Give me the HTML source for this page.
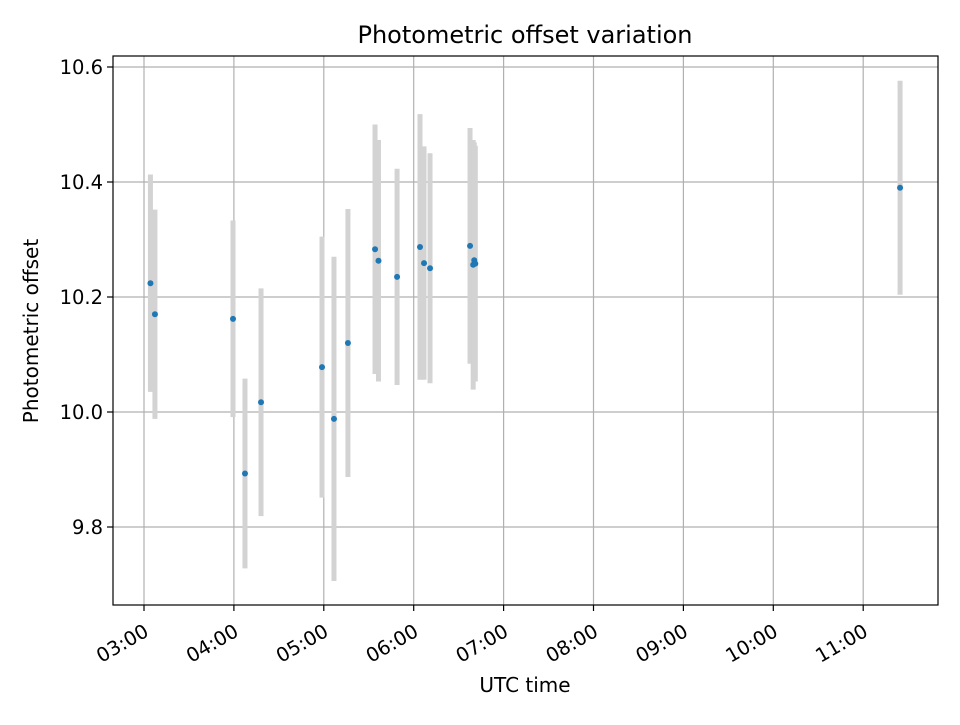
<!DOCTYPE html>
<html><head><meta charset="utf-8"><style>
body{margin:0;background:#fff;}
svg text{font-family:"DejaVu Sans","Liberation Sans",sans-serif;fill:#000;}
</style></head><body>
<svg id="chart" width="960" height="720" viewBox="0 0 960 720" xmlns="http://www.w3.org/2000/svg">
<rect width="960" height="720" fill="#fff"/>
<g id="grid"></g>
<g id="errs"></g>
<g id="pts"></g>
<rect x="113" y="56" width="825" height="549" fill="none" stroke="#000" stroke-width="1.2"/>
<g id="ticks"></g>
<text x="525" y="43" font-size="24" text-anchor="middle">Photometric offset variation</text>
<text x="525" y="692" font-size="20" text-anchor="middle">UTC time</text>
<text x="38" y="331" font-size="20" text-anchor="middle" transform="rotate(-90 38 331)">Photometric offset</text>
</svg>
<script>
// minutes since 03:00 UTC
const times = [4.3, 7.3, 59.4, 67.4, 78.1, 118.8, 126.8, 136.1, 154.2, 156.5, 168.9, 184.2, 186.9, 190.9, 217.6, 219.7, 220.4, 221.1, 504.6];
const offsets = [10.224, 10.170, 10.162, 9.893, 10.017, 10.078, 9.988, 10.120, 10.283, 10.263, 10.235, 10.287, 10.259, 10.250, 10.289, 10.256, 10.264, 10.258, 10.390];
const errors = [0.189, 0.182, 0.171, 0.165, 0.198, 0.227, 0.282, 0.233, 0.217, 0.210, 0.188, 0.231, 0.203, 0.200, 0.205, 0.217, 0.205, 0.205, 0.186];
const xTicks = [0, 60, 120, 180, 240, 300, 360, 420, 480];
const xTickLabels = ["03:00","04:00","05:00","06:00","07:00","08:00","09:00","10:00","11:00"];
const yTicks = [9.8, 10.0, 10.2, 10.4, 10.6];
const yTickLabels = ["9.8","10.0","10.2","10.4","10.6"];

const X = m => 144 + m * 89.9 / 60;
const Y = v => 412 - (v - 10) * 575;
const NS = "http://www.w3.org/2000/svg";
function mk(tag, attrs, parent){const e=document.createElementNS(NS,tag);for(const k in attrs)e.setAttribute(k,attrs[k]);parent.appendChild(e);return e;}
const grid=document.getElementById('grid'), ticks=document.getElementById('ticks'), errs=document.getElementById('errs'), pts=document.getElementById('pts');

xTicks.forEach((t,i)=>{
  const x=X(t);
  const g=mk('line',{x1:x,x2:x,y1:56,y2:605,stroke:'#b0b0b0','stroke-width':1.2},grid);
  
  
  const tk=mk('line',{x1:x,x2:x,y1:605,y2:611,stroke:'#000','stroke-width':1.2},ticks);
  
  
  const ax=x+6, ay=635;
  const tx=mk('text',{x:ax,y:ay,'font-size':19.5,'text-anchor':'end',transform:`rotate(-30 ${ax} ${ay})`},ticks);
  tx.textContent=xTickLabels[i];
  
  
});
yTicks.forEach((t,i)=>{
  const y=Y(t);
  const g=mk('line',{x1:113,x2:938,y1:y,y2:y,stroke:'#b0b0b0','stroke-width':1.2},grid);
  
  
  const tk=mk('line',{x1:107,x2:113,y1:y,y2:y,stroke:'#000','stroke-width':1.2},ticks);
  
  
  const tx=mk('text',{x:103,y:y+7,'font-size':19.5,'text-anchor':'end'},ticks);
  tx.textContent=yTickLabels[i];
  
  
});
times.forEach((t,i)=>{
  const x=X(t);
  const e=mk('line',{x1:x,x2:x,y1:Y(offsets[i]+errors[i]),y2:Y(offsets[i]-errors[i]),stroke:'#d3d3d3','stroke-width':5},errs);
  
  
});
times.forEach((t,i)=>{
  const c=mk('circle',{cx:X(t),cy:Y(offsets[i]),r:3,fill:'#1f77b4'},pts);
  
  
});
</script>
</body></html>
